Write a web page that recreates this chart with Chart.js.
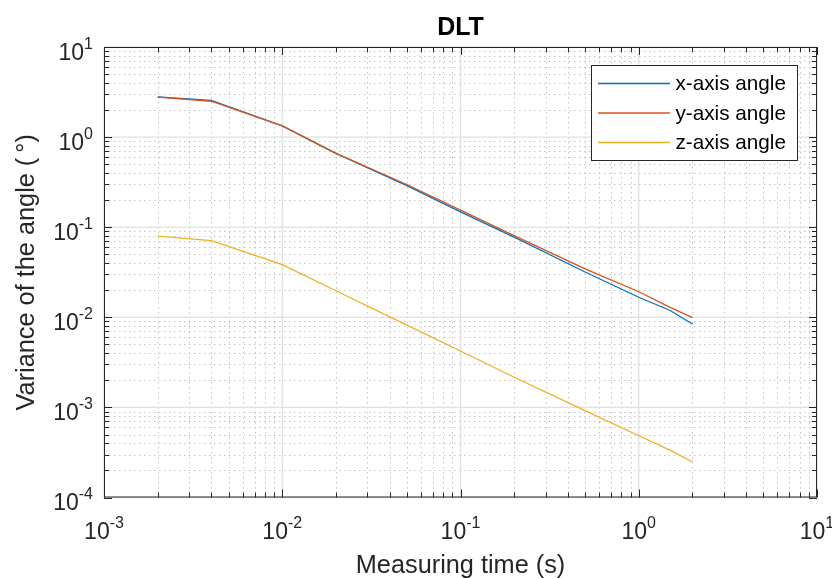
<!DOCTYPE html>
<html>
<head>
<meta charset="utf-8">
<script src="https://cdn.jsdelivr.net/npm/chart.js@4.4.1/dist/chart.umd.min.js"></script>
<style>
html,body{margin:0;padding:0;background:#fff;}
#wrap{width:832px;height:578px;position:relative;}
</style>
</head>
<body>
<div id="wrap"><canvas id="c" width="832" height="578"></canvas></div>
<script>
// ---- data ----
const measuringTime = [0.002, 0.004, 0.01, 0.02, 0.05, 0.1, 0.2, 0.5, 1, 1.5, 2];
const xAxisAngle = [2.80, 2.55, 1.33, 0.66, 0.289, 0.148, 0.0775, 0.0318, 0.0167, 0.0119, 0.00843];
const yAxisAngle = [2.78, 2.50, 1.33, 0.66, 0.298, 0.155, 0.0805, 0.0345, 0.0192, 0.0129, 0.0099];
const zAxisAngle = [0.0798, 0.0708, 0.0384, 0.0197, 0.0082, 0.00423, 0.00216, 0.00092, 0.000485, 0.000336, 0.000248];
const seriesNames = ['x-axis angle', 'y-axis angle', 'z-axis angle'];
const xTickExponents = [-3, -2, -1, 0, 1];
const yTickExponents = [-4, -3, -2, -1, 0, 1];
const chartTitle = 'DLT';
const xTitle = 'Measuring time (s)';
const yTitle = 'Variance of the angle (\u2009\u00b0)';

const COLORS = ['#0072BD', '#D95319', '#EDB120'];
const FONT = '"Liberation Sans", Arial, Helvetica, sans-serif';
const AXC = '#262626';

function pts(ys){ return measuringTime.map((t,i)=>({x:t, y:ys[i]})); }

function drawPow(ctx, exp, x, y, align){
  const main = '10', sup = String(exp);
  ctx.font = '23px ' + FONT;
  const wm = ctx.measureText(main).width;
  ctx.font = '16px ' + FONT;
  const ws = ctx.measureText(sup).width;
  const w = wm + ws;
  let x0 = align === 'center' ? x - w/2 : x - w;
  ctx.textAlign = 'left';
  ctx.textBaseline = 'alphabetic';
  ctx.fillStyle = AXC;
  ctx.font = '23px ' + FONT;
  ctx.fillText(main, x0, y);
  ctx.font = '16px ' + FONT;
  ctx.fillText(sup, x0 + wm, y - 11);
}

const decor = {
  id: 'decor',
  beforeDatasetsDraw(chart){
    const ctx = chart.ctx, a = chart.chartArea;
    const xs = chart.scales.x, ys = chart.scales.y;
    ctx.save();
    // minor grid (dotted)
    ctx.strokeStyle = '#c4c4c4';
    ctx.lineWidth = 1;
    ctx.setLineDash([1.5, 3.5]);
    for (let e = -3; e < 1; e++) for (let m = 2; m <= 9; m++){
      const px = Math.round(xs.getPixelForValue(m*Math.pow(10,e))) + 0.5;
      ctx.beginPath(); ctx.moveTo(px, a.top); ctx.lineTo(px, a.bottom); ctx.stroke();
    }
    for (let e = -4; e < 1; e++) for (let m = 2; m <= 9; m++){
      const py = Math.round(ys.getPixelForValue(m*Math.pow(10,e))) + 0.5;
      ctx.beginPath(); ctx.moveTo(a.left, py); ctx.lineTo(a.right, py); ctx.stroke();
    }
    // major grid
    ctx.setLineDash([]);
    ctx.strokeStyle = '#e0e0e0';
    ctx.lineWidth = 1.3;
    xTickExponents.forEach(e=>{
      const px = xs.getPixelForValue(Math.pow(10,e));
      ctx.beginPath(); ctx.moveTo(px, a.top); ctx.lineTo(px, a.bottom); ctx.stroke();
    });
    yTickExponents.forEach(e=>{
      const py = ys.getPixelForValue(Math.pow(10,e));
      ctx.beginPath(); ctx.moveTo(a.left, py); ctx.lineTo(a.right, py); ctx.stroke();
    });
    ctx.restore();
  },
  afterDatasetsDraw(chart){
    const ctx = chart.ctx, a = chart.chartArea;
    const xs = chart.scales.x, ys = chart.scales.y;
    ctx.save();
    ctx.strokeStyle = AXC;
    ctx.lineWidth = 1;
    // box
    ctx.strokeRect(a.left + 0.5, a.top + 0.5, a.right - a.left - 1, a.bottom - a.top - 1);
    // ticks
    const tk = (px, len, vertical) => {
      ctx.beginPath();
      if (vertical){
        ctx.moveTo(px, a.bottom); ctx.lineTo(px, a.bottom - len);
        ctx.moveTo(px, a.top); ctx.lineTo(px, a.top + len);
      } else {
        ctx.moveTo(a.left, px); ctx.lineTo(a.left + len, px);
        ctx.moveTo(a.right, px); ctx.lineTo(a.right - len, px);
      }
      ctx.stroke();
    };
    for (let e = -3; e <= 1; e++){
      tk(Math.round(xs.getPixelForValue(Math.pow(10,e))) + 0.5, 8, true);
      if (e < 1) for (let m = 2; m <= 9; m++) tk(Math.round(xs.getPixelForValue(m*Math.pow(10,e))) + 0.5, 5, true);
    }
    for (let e = -4; e <= 1; e++){
      tk(Math.round(ys.getPixelForValue(Math.pow(10,e))) + 0.5, 8, false);
      if (e < 1) for (let m = 2; m <= 9; m++) tk(Math.round(ys.getPixelForValue(m*Math.pow(10,e))) + 0.5, 5, false);
    }
    // tick labels
    xTickExponents.forEach(e=>{
      drawPow(ctx, e, xs.getPixelForValue(Math.pow(10,e)), 539, 'center');
    });
    yTickExponents.forEach(e=>{
      drawPow(ctx, e, 93, ys.getPixelForValue(Math.pow(10,e)) + 12.5, 'right');
    });
    // titles
    ctx.fillStyle = '#000';
    ctx.textAlign = 'center';
    ctx.textBaseline = 'alphabetic';
    ctx.font = 'bold 25px ' + FONT;
    ctx.fillText(chartTitle, (a.left + a.right)/2, 35);
    ctx.fillStyle = AXC;
    ctx.font = '25.3px ' + FONT;
    ctx.fillText(xTitle, (a.left + a.right)/2, 573);
    ctx.save();
    ctx.translate(34, (a.top + a.bottom)/2);
    ctx.rotate(-Math.PI/2);
    ctx.fillText(yTitle, 0, 0);
    ctx.restore();
    // legend
    const lx = 591.5, ly = 65.5, lw = 206, lh = 95;
    ctx.fillStyle = '#fff';
    ctx.fillRect(lx, ly, lw, lh);
    ctx.strokeStyle = AXC;
    ctx.lineWidth = 1;
    ctx.strokeRect(lx, ly, lw, lh);
    const rows = [83.5, 113, 142.5];
    chart.data.datasets.forEach((ds, i)=>{
      ctx.strokeStyle = ds.borderColor;
      ctx.lineWidth = 1.3;
      ctx.beginPath(); ctx.moveTo(598, rows[i]); ctx.lineTo(670, rows[i]); ctx.stroke();
      ctx.fillStyle = '#000';
      ctx.font = '20.7px ' + FONT;
      ctx.textAlign = 'left';
      ctx.textBaseline = 'middle';
      ctx.fillText(ds.label, 675.5, rows[i] + 1);
    });
    ctx.restore();
  }
};

new Chart(document.getElementById('c'), {
  type: 'line',
  data: {
    datasets: [
      {label: seriesNames[0], data: pts(xAxisAngle), borderColor: COLORS[0], order: 2},
      {label: seriesNames[1], data: pts(yAxisAngle), borderColor: COLORS[1], order: 1},
      {label: seriesNames[2], data: pts(zAxisAngle), borderColor: COLORS[2], order: 0}
    ]
  },
  options: {
    responsive: false,
    animation: false,
    parsing: true,
    elements: {
      line: {borderWidth: 1.3, tension: 0, fill: false},
      point: {radius: 0, hoverRadius: 0}
    },
    layout: {padding: {left: 104, right: 15, top: 47, bottom: 80.5}},
    plugins: {legend: {display: false}, title: {display: false}, tooltip: {enabled: false}},
    scales: {
      x: {type: 'logarithmic', min: 0.001, max: 10, display: false},
      y: {type: 'logarithmic', min: 0.0001, max: 10, display: false}
    }
  },
  plugins: [decor]
});
</script>
</body>
</html>
